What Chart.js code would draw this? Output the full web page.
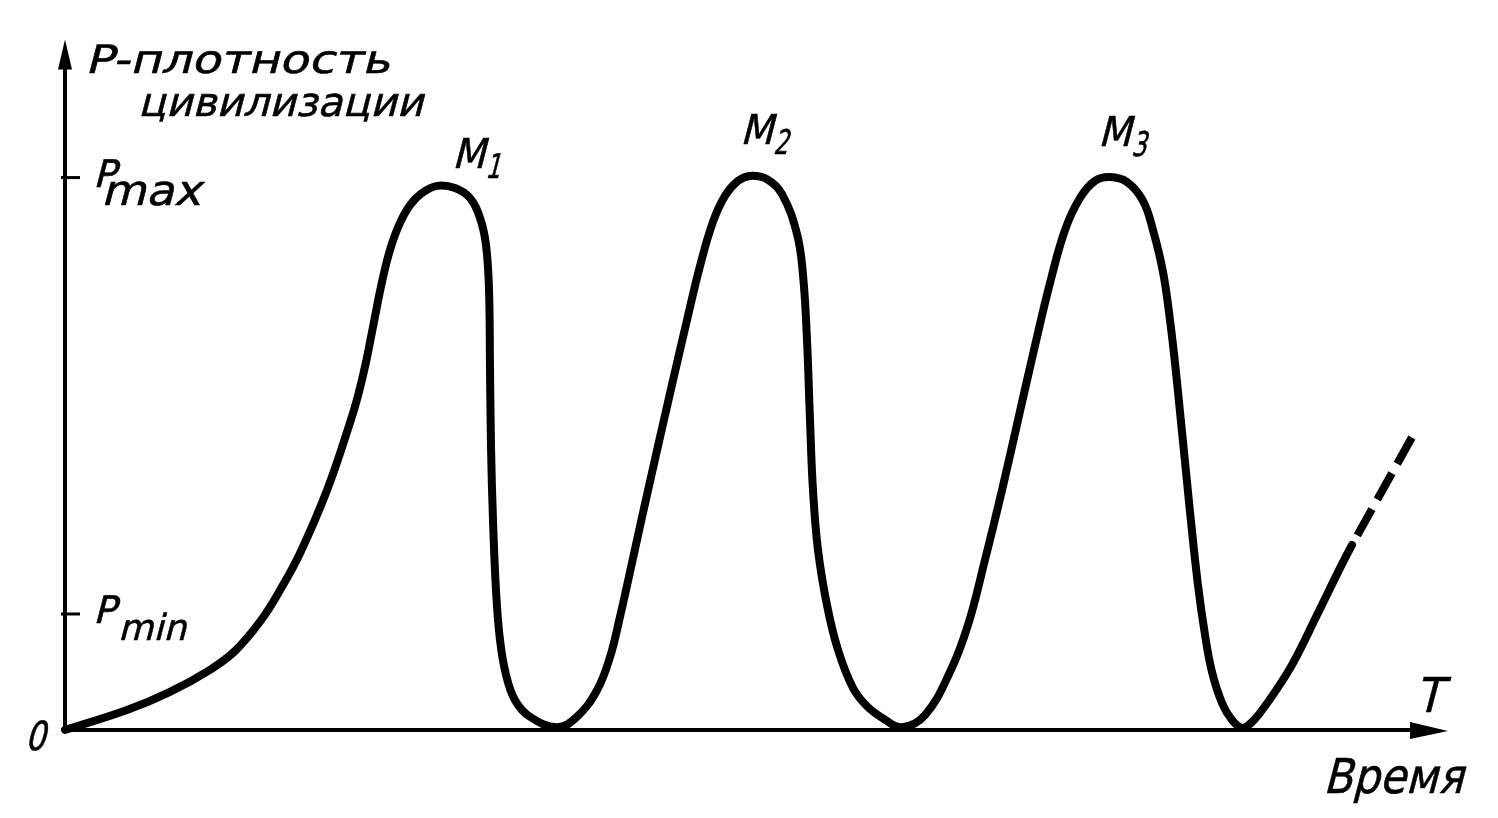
<!DOCTYPE html>
<html>
<head>
<meta charset="utf-8">
<script src="https://cdn.jsdelivr.net/npm/chart.js@4.4.1/dist/chart.umd.min.js"></script>
<style>
  html, body { margin: 0; padding: 0; background: #fff; }
  #wrap { width: 1498px; height: 818px; position: relative; }
</style>
</head>
<body>
<div id="wrap"><canvas id="chart"></canvas></div>
<script>
// time (arbitrary units) and civilisation density P (P max = 100)
const timeVals = [0, 6.2, 10.5, 14.5, 17.0, 19.5, 21.5, 23.5, 26.2, 28.5, 29.3, 30.1, 30.9, 31.7, 32.5, 33.4, 34.5, 35.7, 37.2, 39.0,
  40.5, 41.5, 42.1, 42.4, 42.5, 42.6, 42.8, 43.1, 43.5, 44.1, 45.0, 46.5, 49.2, 51.2, 53.2, 54.5, 55.5, 56.5, 57.6, 59.1,
  60.7, 62.2, 63.5, 64.8, 66.0, 67.3, 68.5, 70.2, 71.7, 73.2, 73.8, 74.2, 74.5, 74.8, 75.3, 76.2, 77.3, 78.8, 80.2, 81.9,
  83.7, 86.0, 88.5, 90.3, 92.0, 93.7, 95.3, 96.9, 98.5, 100.0, 101.5, 103.0, 104.5, 106.2, 107.8, 108.8, 109.8, 110.5, 111.2, 112.5,
  113.3, 114.0, 114.7, 115.7, 116.7, 117.7, 118.5, 119.5, 121.0, 122.8, 125.2, 127.5, 128.7];
const densityVals = [0, 3.6, 6.9, 10.9, 14.3, 19.6, 25.3, 32.0, 43.4, 55.6, 60.5, 66.6, 73.9, 81.1, 86.9, 91.4, 95.0, 97.2, 98.5, 98.1,
  96.3, 92.7, 87.8, 79.7, 65.7, 51.4, 38.0, 25.3, 16.3, 10.0, 5.4, 2.4, 0.5, 2.4, 7.2, 13.2, 20.5, 28.6, 37.7, 49.8,
  62.5, 74.2, 84.0, 92.0, 96.7, 99.4, 100.3, 99.7, 97.0, 89.8, 82.4, 70.6, 56.1, 43.4, 32.6, 22.6, 14.5, 7.6, 4.3, 2.0,
  0.5, 2.7, 10.5, 19.0, 30.8, 43.4, 56.1, 68.8, 80.9, 90.5, 96.3, 99.4, 100.1, 99.2, 95.8, 90.5, 82.9, 74.2, 63.0, 39.5,
  26.2, 17.2, 10.5, 4.9, 1.8, 0.4, 1.1, 3.1, 6.9, 12.1, 20.8, 29.3, 33.5];

// dashed continuation (forecast)
const dashTime = [128.7, 134.7];
const dashDensity = [33.5, 53.0];

// marked levels on the P axis
const levelVals = [21, 100];
const levelNames = ['min', 'max'];

const peakNames = ['1', '2', '3'];

function toPoints(xs, ys) {
  return xs.map(function (x, i) { return { x: x, y: ys[i] }; });
}

function drawText(ctx, str, x, y, size, width) {
  ctx.save();
  ctx.font = size + 'px "DejaVu Sans"';
  ctx.textAlign = 'left';
  ctx.textBaseline = 'alphabetic';
  var w = ctx.measureText(str).width;
  var sx = width ? width / w : 1;
  ctx.translate(x, y);
  ctx.transform(sx, 0, -0.26, 1, 0, 0);
  ctx.lineWidth = 0.6;
  ctx.strokeStyle = '#000';
  ctx.fillText(str, 0, 0);
  ctx.strokeText(str, 0, 0);
  ctx.restore();
}

const axesPlugin = {
  id: 'axesPlugin',
  beforeDatasetsDraw: function (chart) {
    const ctx = chart.ctx;
    const xs = chart.scales.x, ys = chart.scales.y;
    const ox = xs.getPixelForValue(0), oy = ys.getPixelForValue(0);
    ctx.save();
    ctx.strokeStyle = '#000';
    ctx.fillStyle = '#000';
    ctx.lineWidth = 4;
    ctx.lineCap = 'butt';

    // axes
    var topY = ys.getPixelForValue(125);
    var endX = xs.getPixelForValue(138.3);
    ctx.beginPath();
    ctx.moveTo(ox, oy + 2);
    ctx.lineTo(ox, topY + 20);
    ctx.moveTo(ox - 2, oy);
    ctx.lineTo(endX - 30, oy);
    ctx.stroke();

    // arrow heads
    ctx.beginPath();
    ctx.moveTo(ox, topY);
    ctx.lineTo(ox - 7, topY + 30);
    ctx.lineTo(ox + 7, topY + 30);
    ctx.closePath();
    ctx.fill();
    ctx.beginPath();
    ctx.moveTo(endX, oy + 1);
    ctx.lineTo(endX - 38, oy - 8);
    ctx.lineTo(endX - 38, oy + 9);
    ctx.closePath();
    ctx.fill();

    // level ticks
    ctx.lineWidth = 3;
    levelVals.forEach(function (v) {
      var py = ys.getPixelForValue(v);
      ctx.beginPath();
      ctx.moveTo(ox - 4, py);
      ctx.lineTo(ox + 15, py);
      ctx.stroke();
    });
    ctx.restore();
  },
  afterDraw: function (chart) {
    const ctx = chart.ctx;
    const xs = chart.scales.x, ys = chart.scales.y;
    const ox = xs.getPixelForValue(0), oy = ys.getPixelForValue(0);
    ctx.save();
    ctx.fillStyle = '#000';

    // axis titles
    drawText(ctx, 'P-плотность', ox + 20, oy - 657, 39, 305);
    drawText(ctx, 'цивилизации', ox + 73, oy - 614, 40, 285);
    drawText(ctx, '0', ox - 40, oy + 20, 40, 20);
    drawText(ctx, 'T', ox + 1350, oy - 18, 48, 27);
    drawText(ctx, 'Время', ox + 1258, oy + 63, 48, 140);

    // P min / P max
    var subStyle = { min: { dx: 53, dy: 26, size: 36, w: 68 }, max: { dx: 36, dy: 27, size: 42, w: 100 } };
    levelVals.forEach(function (v, i) {
      var py = ys.getPixelForValue(v);
      var s = subStyle[levelNames[i]];
      drawText(ctx, 'P', ox + 28, py + 9, 38);
      drawText(ctx, levelNames[i], ox + s.dx, py + s.dy, s.size, s.w);
    });

    // peaks M1..M3
    var offs = [[15, 18], [-10, 32], [-12, 31]];
    var k = 0;
    for (var i = 1; i < densityVals.length - 1 && k < peakNames.length; i++) {
      if (densityVals[i] > 90 && densityVals[i] >= densityVals[i - 1] && densityVals[i] >= densityVals[i + 1]) {
        var px = xs.getPixelForValue(timeVals[i]);
        var py = ys.getPixelForValue(densityVals[i]);
        drawText(ctx, 'M', px + offs[k][0], py - offs[k][1], 41, 33);
        drawText(ctx, peakNames[k], px + offs[k][0] + 33, py - offs[k][1] + 10, 34, 15);
        k++;
      }
    }
    ctx.restore();
  }
};

new Chart(document.getElementById('chart'), {
  type: 'scatter',
  data: {
    datasets: [
      {
        data: toPoints(timeVals, densityVals),
        showLine: true,
        borderColor: '#000',
        borderWidth: 8,
        borderCapStyle: 'round',
        borderJoinStyle: 'round',
        tension: 0.4,
        pointRadius: 0,
        clip: false
      },
      {
        data: toPoints(dashTime, dashDensity),
        showLine: true,
        borderColor: '#000',
        borderWidth: 8,
        borderDash: [30, 11],
        borderDashOffset: 30,
        borderCapStyle: 'butt',
        pointRadius: 0,
        clip: false
      }
    ]
  },
  options: {
    responsive: true,
    maintainAspectRatio: false,
    animation: false,
    layout: { padding: { left: 65, right: 33, top: 45, bottom: 88 } },
    scales: {
      x: { type: 'linear', min: 0, max: 140, display: false },
      y: { type: 'linear', min: 0, max: 124, display: false }
    },
    plugins: {
      legend: { display: false },
      tooltip: { enabled: false }
    }
  },
  plugins: [axesPlugin]
});
</script>
</body>
</html>
